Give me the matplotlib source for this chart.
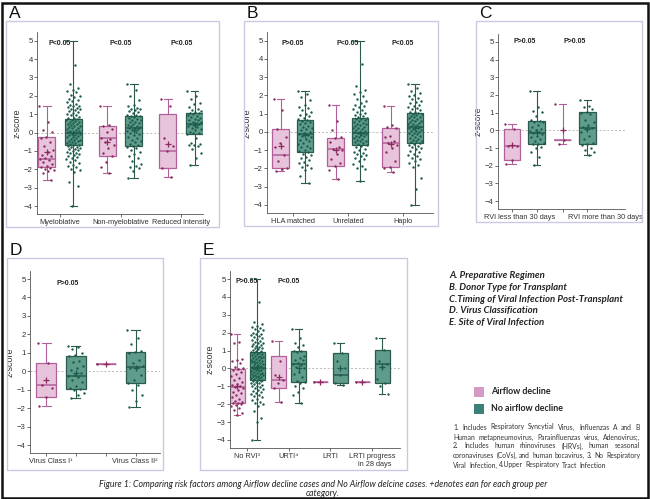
import numpy as np
import matplotlib
matplotlib.use('Agg')
import matplotlib.pyplot as plt
from matplotlib.patches import Rectangle

W, H = 650, 499

# ---------------- data ----------------
# box stats per group: whislo, q1, median, q3, whishi, mean
A_labels = ['Myeloblative', 'Non-myeloblative', 'Reduced intensity']
A_pvals = ['P<0.05', 'P<0.05', 'P<0.05']
A_stats_p = [[-2.56, -1.89, -1.44, -0.24, 1.46, -1.08],
             [-2.20, -1.29, -0.32, 0.37, 1.46, -0.50],
             [-2.40, -1.93, -0.99, 1.00, 1.84, -0.62]]
A_stats_g = [[-4.00, -0.70, -0.03, 0.75, 5.00, -0.05],
             [-2.49, -0.75, 0.26, 0.91, 2.63, 0.15],
             [-1.75, -0.08, 0.48, 1.06, 2.25, 0.40]]
A_pts_p = [
    [1.46, 0.55, 0.12, 0.05, -0.22, -0.31, -0.52, -0.74, -0.95, -1.08, -1.21, -1.3, -1.38,
     -1.44, -1.52, -1.63, -1.71, -1.8, -1.88, -1.93, -2.0, -2.04, -2.12, -2.21, -2.56],
    [1.44, 0.42, 0.35, 0.2, 0.05, -0.3, -0.35, -0.5, -0.7, -0.85, -1.1, -1.3, -1.6, -1.9, -2.2],
    [1.84, 1.45, -0.3, -0.75, -0.99, -1.93, -2.4],
]
A_pts_g = [
    [5.0, 3.7, 2.62, 2.41, 2.33, 2.28, 2.19, 2.07, 1.98, 1.93, 1.81, 1.77, 1.7, 1.66, 1.58,
     1.52, 1.47, 1.43, 1.39, 1.34, 1.3, 1.26, 1.21, 1.17, 1.12, 1.08, 1.02, 0.98, 0.93, 0.87,
     0.81, 0.77, 0.73, 0.7, 0.66, 0.63, 0.6, 0.56, 0.52, 0.49, 0.45, 0.41, 0.38, 0.33, 0.3,
     0.27, 0.22, 0.18, 0.15, 0.11, 0.07, 0.04, 0.01, -0.03, -0.06, -0.09, -0.13, -0.16, -0.2,
     -0.23, -0.27, -0.3, -0.34, -0.38, -0.41, -0.44, -0.48, -0.52, -0.55, -0.59, -0.62, -0.66,
     -0.69, -0.73, -0.77, -0.8, -0.84, -0.88, -0.92, -0.97, -1.01, -1.06, -1.1, -1.14, -1.19,
     -1.23, -1.28, -1.33, -1.39, -1.45, -1.52, -1.6, -1.68, -1.75, -1.83, -1.9, -1.97, -2.05,
     -2.15, -2.7, -2.9, -4.0],
    [2.63, 2.3, 2.0, 1.75, 1.5, 1.42, 1.35, 1.3, 1.28, 1.2, 1.15, 1.1, 1.05, 0.98, 0.94, 0.92,
     0.88, 0.85, 0.8, 0.76, 0.7, 0.66, 0.6, 0.57, 0.52, 0.47, 0.43, 0.38, 0.33, 0.3, 0.27,
     0.24, 0.2, 0.15, 0.1, 0.05, 0.0, -0.08, -0.15, -0.22, -0.3, -0.38, -0.45, -0.52, -0.6,
     -0.67, -0.72, -0.78, -0.85, -0.95, -1.05, -1.15, -1.28, -1.4, -1.55, -1.7, -1.8, -1.88,
     -1.95, -2.1, -2.49],
    [2.25, 2.0, 1.8, 1.62, 1.55, 1.4, 1.3, 1.22, 1.15, 1.1, 1.08, 1.04, 1.0, 0.95, 0.9, 0.85,
     0.8, 0.75, 0.7, 0.66, 0.6, 0.55, 0.5, 0.48, 0.45, 0.4, 0.35, 0.3, 0.25, 0.2, 0.12, 0.05,
     0.0, -0.05, -0.1, -0.3, -0.55, -0.62, -0.68, -0.7, -0.72, -0.9, -1.1, -1.4, -1.75],
]

B_labels = ['HLA matched', 'Unrelated', 'Haplo']
B_pvals = ['P>0.05', 'P<0.05', 'P<0.05']
B_stats_p = [[-2.12, -1.97, -1.28, 0.15, 1.82, -0.77],
             [-2.59, -1.84, -0.91, -0.31, 1.48, -1.00],
             [-2.21, -1.90, -0.58, 0.24, 1.42, -0.68]]
B_stats_g = [[-2.77, -1.09, -0.11, 0.66, 2.24, -0.15],
             [-2.66, -0.69, -0.04, 0.75, 5.00, -0.05],
             [-4.00, -0.58, 0.27, 1.02, 2.65, 0.20]]
B_pts_p = [
    [1.82, 1.2, 0.15, -0.3, -0.6, -0.85, -1.28, -1.6, -1.97, -2.05, -2.12],
    [1.48, 0.6, 0.1, -0.3, -0.35, -0.55, -0.8, -0.91, -1.0, -1.2, -1.5, -1.7, -1.84, -2.1, -2.59],
    [1.42, 0.4, 0.3, 0.24, -0.2, -0.3, -0.5, -0.58, -0.7, -0.9, -1.1, -1.6, -1.9, -1.95, -2.21],
]
B_pts_g = [
    [2.24, 2.1, 1.9, 1.75, 1.5, 1.38, 1.3, 1.2, 1.1, 1.0, 0.95, 0.85, 0.78, 0.7, 0.68, 0.62,
     0.55, 0.5, 0.42, 0.35, 0.3, 0.22, 0.15, 0.1, 0.02, -0.05, -0.1, -0.15, -0.22, -0.3, -0.38,
     -0.45, -0.52, -0.6, -0.68, -0.75, -0.82, -0.9, -0.98, -1.05, -1.12, -1.2, -1.28, -1.35,
     -1.45, -1.55, -1.62, -1.7, -1.8, -1.9, -2.0, -2.1, -2.4, -2.77],
    [5.0, 3.7, 2.5, 2.3, 2.2, 2.1, 1.95, 1.8, 1.7, 1.6, 1.5, 1.42, 1.35, 1.25, 1.18, 1.1, 1.05,
     1.0, 0.95, 0.88, 0.82, 0.77, 0.73, 0.7, 0.65, 0.6, 0.55, 0.5, 0.46, 0.42, 0.38, 0.33,
     0.28, 0.24, 0.2, 0.15, 0.1, 0.06, 0.02, -0.02, -0.04, -0.08, -0.12, -0.16, -0.2, -0.24,
     -0.28, -0.33, -0.38, -0.42, -0.47, -0.52, -0.57, -0.62, -0.67, -0.72, -0.78, -0.85,
     -0.92, -1.0, -1.08, -1.15, -1.22, -1.25, -1.3, -1.4, -1.5, -1.6, -1.75, -1.85, -1.95,
     -2.05, -2.66],
    [2.65, 2.4, 2.25, 2.15, 2.05, 1.95, 1.88, 1.8, 1.72, 1.65, 1.58, 1.5, 1.45, 1.38, 1.3,
     1.25, 1.18, 1.12, 1.08, 1.04, 1.0, 0.96, 0.92, 0.88, 0.84, 0.8, 0.75, 0.7, 0.66, 0.62,
     0.58, 0.54, 0.5, 0.46, 0.42, 0.38, 0.34, 0.3, 0.27, 0.24, 0.2, 0.16, 0.12, 0.08, 0.04,
     0.0, -0.04, -0.08, -0.12, -0.17, -0.22, -0.27, -0.32, -0.37, -0.42, -0.47, -0.52, -0.56,
     -0.6, -0.65, -0.7, -0.76, -0.82, -0.88, -0.95, -1.02, -1.1, -1.18, -1.25, -1.33, -1.42,
     -1.5, -1.6, -1.7, -1.8, -1.9, -2.5, -3.1, -4.0],
]

C_labels = ['RVI less than 30 days', 'RVI more than 30 days']
C_pvals = ['P>0.05', 'P>0.05']
C_stats_p = [[-1.90, -1.65, -0.86, 0.06, 0.38, -0.84],
             [-0.80, -0.57, -0.55, -0.55, 1.48, 0.04]]
C_stats_g = [[-1.94, -0.76, -0.17, 0.53, 2.22, -0.10],
             [-1.41, -0.80, 0.13, 1.04, 1.71, 0.10]]
C_pts_p = [
    [0.38, 0.05, -0.86, -0.9, -1.65, -1.9],
    [1.48, -0.55, -0.8],
]
C_pts_g = [
    [2.22, 1.3, 1.1, 1.05, 0.8, 0.6, 0.55, 0.5, 0.45, 0.3, 0.2, 0.1, 0.0, -0.05, -0.1, -0.17,
     -0.2, -0.3, -0.4, -0.5, -0.6, -0.7, -0.76, -0.8, -0.95, -1.0, -1.2, -1.5, -1.94],
    [1.71, 1.4, 1.3, 1.2, 1.05, 1.0, 0.95, 0.6, 0.5, 0.3, 0.2, 0.13, 0.05, -0.1, -0.3, -0.5,
     -0.7, -0.8, -0.85, -1.0, -1.1, -1.25, -1.41],
]

D_labels = ['Virus Class I\u00b9', 'Virus Class II\u00b2']
D_pvals = ['P>0.05']
D_stats_p = [[-1.88, -1.41, -0.76, 0.43, 1.52, -0.50],
             [0.38, 0.38, 0.38, 0.38, 0.38, 0.38]]
D_stats_g = [[-1.45, -0.96, -0.24, 0.83, 1.38, -0.10],
             [-1.92, -0.62, 0.24, 1.05, 2.21, 0.20]]
D_pts_p = [
    [1.52, 0.43, -0.76, -0.9, -1.41, -1.88],
    [0.38],
]
D_pts_g = [
    [1.38, 1.3, 1.2, 1.0, 0.9, 0.83, 0.55, 0.5, 0.3, 0.2, 0.05, -0.1, -0.2, -0.24, -0.3, -0.5,
     -0.6, -0.8, -0.9, -0.96, -1.0, -1.2, -1.3, -1.45],
    [2.21, 1.8, 1.5, 1.1, 1.05, 1.0, 0.6, 0.45, 0.3, 0.24, 0.2, -0.2, -0.5, -0.62, -0.75,
     -1.0, -1.3, -1.6, -1.92],
]

E_labels = ['No RVI\u00b3', 'URTI\u2074', 'LRTI', 'LRTI progress\n   in 28 days']
E_pvals = ['P>0.05', 'P<0.05']
E_stats_p = [[-2.61, -1.92, -1.02, -0.04, 1.92, -1.00],
             [-1.86, -1.12, -0.65, 0.67, 1.55, -0.50],
             [-0.76, -0.76, -0.76, -0.76, -0.76, -0.76],
             [-0.76, -0.76, -0.76, -0.76, -0.76, -0.76]]
E_stats_g = [[-4.00, -0.65, 0.00, 0.93, 5.00, 0.10],
             [-1.92, -0.76, 0.24, 0.99, 2.23, 0.00],
             [-0.93, -0.80, -0.34, 0.89, 1.40, 0.04],
             [-1.45, -0.80, 0.24, 1.02, 1.73, 0.10]]
E_pts_p = [
    [1.92, 1.5, 1.45, 0.55, 0.5, 0.4, 0.3, 0.1, 0.05, -0.04, -0.1, -0.2, -0.3, -0.45, -0.55,
     -0.65, -0.75, -0.85, -0.95, -1.0, -1.02, -1.1, -1.2, -1.3, -1.4, -1.5, -1.6, -1.7, -1.8,
     -1.9, -1.92, -1.95, -2.0, -2.05, -2.1, -2.2, -2.3, -2.5, -2.61],
    [1.55, 0.4, -0.35, -0.65, -0.8, -1.12, -1.86],
    [-0.76],
    [-0.76],
]
E_pts_g = [
    [5.0, 3.7, 2.6, 2.5, 2.4, 2.3, 2.25, 2.2, 2.15, 2.1, 2.0, 1.95, 1.9, 1.85, 1.8, 1.75, 1.7,
     1.65, 1.6, 1.55, 1.5, 1.45, 1.4, 1.36, 1.32, 1.28, 1.24, 1.2, 1.16, 1.12, 1.08, 1.04, 1.0,
     0.96, 0.92, 0.89, 0.86, 0.83, 0.8, 0.76, 0.72, 0.69, 0.66, 0.62, 0.59, 0.56, 0.52, 0.49,
     0.46, 0.43, 0.4, 0.37, 0.34, 0.31, 0.28, 0.25, 0.22, 0.19, 0.16, 0.13, 0.1, 0.07, 0.04,
     0.01, -0.02, -0.05, -0.08, -0.11, -0.14, -0.17, -0.2, -0.23, -0.26, -0.29, -0.32, -0.35,
     -0.38, -0.41, -0.44, -0.47, -0.5, -0.53, -0.56, -0.59, -0.62, -0.65, -0.68, -0.72, -0.76,
     -0.8, -0.84, -0.88, -0.92, -0.96, -1.0, -1.05, -1.1, -1.15, -1.2, -1.25, -1.3, -1.36,
     -1.42, -1.48, -1.55, -1.62, -1.7, -1.78, -1.85, -1.92, -2.0, -2.1, -2.4, -2.75, -3.0, -4.0],
    [2.23, 1.7, 1.4, 1.3, 1.2, 1.0, 0.99, 0.9, 0.7, 0.6, 0.5, 0.45, 0.3, 0.24, 0.2, 0.1, 0.0,
     -0.2, -0.3, -0.5, -0.7, -0.76, -0.8, -1.0, -1.1, -1.3, -1.5, -1.92],
    [1.4, 0.89, 0.42, 0.0, -0.34, -0.8, -0.93],
    [1.73, 1.02, 0.4, 0.24, 0.1, -0.6, -0.8, -1.0, -1.45],
]

legend_labels = ['Airflow decline', 'No airflow decline']
panel_titles = ['A. Preparative Regimen', 'B. Donor Type for Transplant',
                'C.Timing of Viral Infection Post-Transplant', 'D. Virus Classification',
                'E. Site of Viral Infection']
footnotes = ['1. Includes Respiratory Syncytial Virus, Influenzas A and B',
             'Human metapneumovirus, Parainfluenzas virus, Adenovirus;,',
             '2. Includes human rhinoviruses (HRVs), human seasonal',
             'coronaviruses (CoVs), and human bocavirus, 3. No Respiratory',
             'Viral Infection,  4.Upper Respiratory Tract Infection']
caption = ['Figure 1: Comparing risk factors among Airflow decline cases and No Airflow delcine '
           'cases. +denotes ean for each group per', 'category.']

# ---------------- style ----------------
PINK_FILL, PINK_EDGE, PINK_PT = '#e8c3dc', '#b2609a', '#8c2a60'
GREEN_FILL, GREEN_EDGE, GREEN_PT = '#5f9c8b', '#2b5a4e', '#1b5c4c'
FRAME = '#c9c9e3'
SANS = 'Liberation Sans'

fig = plt.figure(figsize=(W / 100, H / 100), dpi=100)
renderer = fig.canvas.get_renderer()


def px_rect(l, t, r, b):
    return [l / W, 1 - b / H, (r - l) / W, (b - t) / H]


def fit_size(s, target_px, **kw):
    # font size that makes text s about target_px wide
    t = fig.text(0, 0, s, fontsize=10, **kw)
    w = t.get_window_extent(renderer).width
    t.remove()
    return 10 * target_px / w


def to_bxp(stats):
    out = []
    for lo, q1, med, q3, hi, mean in stats:
        out.append(dict(whislo=lo, q1=q1, med=med, q3=q3, whishi=hi, mean=mean, fliers=[]))
    return out


def draw_panel(rect, labels, pvals, stats_p, stats_g, pts_p, pts_g, xlim, off, bw,
               pval_y=4.85, pval_x=None, label_pos=None):
    ax = fig.add_axes(px_rect(*rect))
    cx = np.arange(len(labels))
    groups = [(stats_p, pts_p, -1, PINK_FILL, PINK_EDGE, PINK_PT),
              (stats_g, pts_g, 1, GREEN_FILL, GREEN_EDGE, GREEN_PT)]
    for stats, pts, sgn, fill, edge, ptc in groups:
        pos = cx + sgn * off
        ax.bxp(to_bxp(stats), positions=pos, widths=bw, capwidths=bw * 0.45,
               showmeans=True, showfliers=False, patch_artist=True,
               boxprops=dict(facecolor=fill, edgecolor=edge, linewidth=0.9),
               medianprops=dict(color=edge, linewidth=1.1),
               whiskerprops=dict(color=edge, linewidth=0.8),
               capprops=dict(color=edge, linewidth=0.8),
               meanprops=dict(marker='+', markeredgecolor=ptc, markersize=4,
                              markeredgewidth=0.9),
               manage_ticks=False, zorder=2)
        for i, v in enumerate(pts):
            v = np.asarray(v, dtype=float)
            k = np.arange(len(v))
            jit = ((k * 0.618034) % 1 - 0.5) * bw * 0.85
            ax.scatter(pos[i] + jit, v, s=3.0, color=ptc, linewidths=0, zorder=4)
    ax.axhline(0, color='#bbbbbb', lw=0.7, ls=(0, (2, 2)), zorder=1)
    ax.set_xlim(*xlim)
    ax.set_ylim(-4.45, 5.45)
    ax.set_yticks(range(-4, 6))
    ax.tick_params(axis='y', labelsize=5.6, length=2, width=0.5, pad=1, colors='#333333')
    ax.tick_params(axis='x', which='both', labelsize=5.3, length=2, width=0.5, pad=1.5,
                   colors='#333333')
    if label_pos is None:
        ax.set_xticks(cx)
        ax.set_xticklabels(labels, fontfamily=SANS)
    else:
        # tick marks under every box, labels where the figure has them
        ax.set_xticks(np.concatenate([cx - off, cx + off]), minor=True)
        ax.set_xticks(label_pos)
        ax.set_xticklabels(labels, fontfamily=SANS)
        ax.tick_params(axis='x', which='major', length=0, pad=3.5)
    for t in ax.get_yticklabels():
        t.set_fontfamily(SANS)
    ax.set_ylabel('z-score', fontsize=6.5, labelpad=2, family=SANS, color='#333333')
    for s in ['top', 'right']:
        ax.spines[s].set_visible(False)
    for s in ['left', 'bottom']:
        ax.spines[s].set_linewidth(0.6)
        ax.spines[s].set_color('#555555')
    ax.patch.set_alpha(0)
    xs = cx if pval_x is None else pval_x
    for x, p in zip(xs, pvals):
        ax.text(x, pval_y, p, ha='center', va='center', fontsize=5, fontweight='bold',
                family=SANS, color='#222222')
    return ax


# panel frames and letters
frames = {'A': (6, 21, 219, 227), 'B': (244, 21, 438, 226), 'C': (476, 21, 642, 222),
          'D': (7, 258, 163, 470), 'E': (200, 258, 407, 470)}
for key, (l, t, r, b) in frames.items():
    fig.patches.append(Rectangle((l / W, 1 - b / H), (r - l) / W, (b - t) / H,
                                 transform=fig.transFigure, fill=False, edgecolor=FRAME,
                                 linewidth=1.0))
    fig.text((l + 3) / W, 1 - t / H, key, fontsize=12.5, family=SANS, va='bottom',
             ha='left', color='#111111')

draw_panel((37, 32.4, 203, 214.3), A_labels, A_pvals, A_stats_p, A_stats_g, A_pts_p, A_pts_g,
           (-0.38, 2.36), 0.22, 0.28)
draw_panel((267, 32.5, 433, 213.2), B_labels, B_pvals, B_stats_p, B_stats_g, B_pts_p, B_pts_g,
           (-0.47, 2.55), 0.22, 0.30)
draw_panel((498, 34, 625, 209), C_labels, C_pvals, C_stats_p, C_stats_g, C_pts_p, C_pts_g,
           (-0.52, 1.99), 0.245, 0.33, pval_y=5.0, label_pos=[-0.09, 1.6])
draw_panel((30, 270.7, 160, 453.3), D_labels, D_pvals, D_stats_p, D_stats_g, D_pts_p, D_pts_g,
           (-0.52, 1.66), 0.25, 0.33, pval_y=4.73, pval_x=[0.12], label_pos=[-0.18, 1.24])
draw_panel((230, 271, 400, 448), E_labels, E_pvals, E_stats_p, E_stats_g, E_pts_p, E_pts_g,
           (-0.41, 3.67), 0.24, 0.36, pval_y=4.85)

# panel description list (longest line is ~174 px wide in the figure)
list_kw = dict(family='Lato', fontweight='bold', fontstyle='italic')
list_fs = fit_size(panel_titles[2], 174, **list_kw)
for i, s in enumerate(panel_titles):
    fig.text(449 / W, 1 - (275 + 12 * i) / H, s, fontsize=list_fs, va='center',
             color='#222222', **list_kw)

# legend
leg_fs = fit_size(legend_labels[1], 73, family='Lato', fontweight='bold')
for i, lab in enumerate(legend_labels):
    yc = 392 + 16.5 * i
    fc = '#d49ac8' if i == 0 else '#3a8278'
    fig.patches.append(Rectangle((474 / W, 1 - (yc + 5) / H), 9.5 / W, 10 / H,
                                 transform=fig.transFigure, facecolor=fc, edgecolor='none'))
    fig.text(491 / W, 1 - yc / H, lab, fontsize=leg_fs, family='Lato', fontweight='bold',
             va='center', color='#222222')

# footnotes, justified between x0 and x1
fy = [427, 437, 446, 455.5, 465]
x0, x1 = 453, 640
fs = 5.3
while True:
    ok = True
    for line in footnotes[:-1]:
        words = [w for w in line.split(' ') if w]
        tmp = [fig.text(0, 0, w, fontsize=fs, family='Lato') for w in words]
        wsum = sum(t.get_window_extent(renderer).width for t in tmp)
        for t in tmp:
            t.remove()
        if (x1 - x0 - wsum) / (len(words) - 1) < 1.8:
            ok = False
    if ok:
        break
    fs -= 0.1
for j, (line, y) in enumerate(zip(footnotes, fy)):
    words = [w for w in line.split(' ') if w]
    texts = [fig.text(0, 0, w, fontsize=fs, family='Lato', va='center', color='#333333')
             for w in words]
    widths = [t.get_window_extent(renderer).width for t in texts]
    if j < len(footnotes) - 1:
        gap = (x1 - x0 - sum(widths)) / (len(words) - 1)
    else:
        gap = 2.2
    x = x0
    for t, w in zip(texts, widths):
        t.set_position((x / W, 1 - y / H))
        x += w + gap

# caption (first line ~451 px wide)
cap_kw = dict(family='Lato', fontstyle='italic')
cap_fs = fit_size(caption[0], 451, **cap_kw)
fig.text(323 / W, 1 - 484.5 / H, caption[0], fontsize=cap_fs, ha='center', va='center',
         color='#222222', **cap_kw)
fig.text(323 / W, 1 - 493.5 / H, caption[1], fontsize=cap_fs, ha='center', va='center',
         color='#222222', **cap_kw)

# outer black border
fig.patches.append(Rectangle((1.5 / W, 0.8 / H), (W - 3.5) / W, (H - 3.3) / H,
                             transform=fig.transFigure, fill=False, edgecolor='#111111',
                             linewidth=1.8))

fig.savefig('out.png', dpi=100)
